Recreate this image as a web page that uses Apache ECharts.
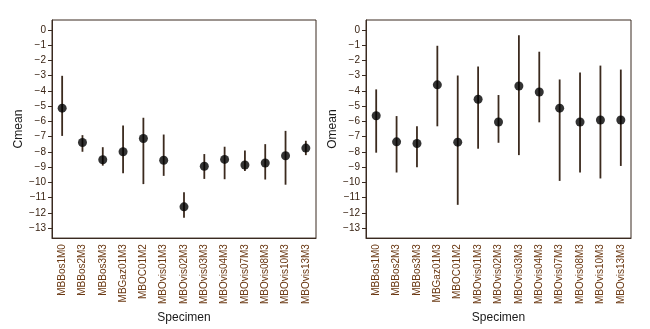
<!DOCTYPE html>
<html><head><meta charset="utf-8">
<script src="https://cdn.jsdelivr.net/npm/echarts@6/dist/echarts.min.js"></script>
<style>html,body{margin:0;padding:0;background:#fff}#c{width:650px;height:329px}</style>
</head><body><div id="c"></div>
<script>
const categories = ['MBBos1M0','MBBos2M3','MBBos3M3','MBGaz01M3','MBOC01M2','MBOvis01M3','MBOvis02M3','MBOvis03M3','MBOvis04M3','MBOvis07M3','MBOvis08M3','MBOvis10M3','MBOvis13M3'];
const cMean = [-5.13,-7.38,-8.51,-7.99,-7.12,-8.55,-11.6,-8.94,-8.49,-8.86,-8.73,-8.25,-7.75];
const cHigh = [-3.01,-6.9,-7.69,-6.26,-5.76,-6.86,-10.65,-8.14,-7.66,-7.9,-7.49,-6.62,-7.27];
const cLow  = [-6.95,-7.99,-8.9,-9.4,-10.11,-9.57,-12.32,-9.77,-9.79,-9.25,-9.81,-10.15,-8.21];
const oMean = [-5.63,-7.34,-7.45,-3.6,-7.36,-4.55,-6.04,-3.68,-4.07,-5.13,-6.04,-5.91,-5.91];
const oHigh = [-3.9,-5.65,-6.32,-1.04,-2.99,-2.4,-4.27,-0.35,-1.43,-3.25,-2.79,-2.34,-2.6];
const oLow  = [-8.05,-9.35,-9.0,-6.32,-11.47,-7.79,-7.4,-8.21,-6.06,-9.9,-9.35,-9.74,-8.92];
const yTicks = [0,-1,-2,-3,-4,-5,-6,-7,-8,-9,-10,-11,-12,-13];

const FONT = 'Liberation Sans, Arial, sans-serif';
const axisCol = '#3a2a20';
const chart = echarts.init(document.getElementById('c'), null, {renderer:'canvas'});

function xAxis(gi){
  return {
    type:'category', gridIndex:gi, data:categories, boundaryGap:true,
    name:'Specimen', nameLocation:'middle', nameGap:64,
    nameTextStyle:{fontFamily:FONT, fontSize:12, color:'#1a1a1a'},
    axisLine:{onZero:false, lineStyle:{color:axisCol, width:1}},
    axisTick:{alignWithLabel:true, length:4, lineStyle:{color:axisCol}},
    axisLabel:{rotate:90, interval:0, fontFamily:FONT, fontSize:10, color:'#6a3812', margin:6},
    splitLine:{show:false}
  };
}
function yAxis(gi, name, gap){
  return {
    type:'value', gridIndex:gi, min:-13.65, max:0.65,
    name:name, nameLocation:'middle', nameGap:gap,
    nameTextStyle:{fontFamily:FONT, fontSize:12, color:'#1a1a1a'},
    axisLine:{show:true, onZero:false, lineStyle:{color:axisCol, width:1}},
    axisTick:{show:true, length:4, customValues:yTicks, lineStyle:{color:axisCol}},
    axisLabel:{customValues:yTicks, fontFamily:FONT, fontSize:10, color:'#3a2414', margin:6,
      formatter:v=>String(Math.round(v)).replace('-','\u2212')},
    splitLine:{show:false}
  };
}
function errSeries(gi, low, high){
  return {
    type:'custom', xAxisIndex:gi, yAxisIndex:gi,
    data: categories.map((c,i)=>[i, low[i], high[i]]),
    renderItem:(params, api)=>{
      const a = api.coord([api.value(0), api.value(1)]);
      const b = api.coord([api.value(0), api.value(2)]);
      return {type:'line', shape:{x1:a[0], y1:a[1], x2:b[0], y2:b[1]},
        style:{stroke:'#3b2a1e', lineWidth:1.8}};
    },
    silent:true, z:2
  };
}
function dotSeries(gi, mean){
  return {
    type:'scatter', xAxisIndex:gi, yAxisIndex:gi,
    data: mean.map((v,i)=>[i,v]), symbol:'circle', symbolSize:9,
    itemStyle:{color:'#000'}, z:3, silent:true
  };
}
chart.setOption({
  animation:false,
  backgroundColor:'#fff',
  grid:[
    {left:52, right:334, top:20, bottom:88, show:true, borderColor:axisCol, borderWidth:1, containLabel:false},
    {left:366, right:19, top:20, bottom:88, show:true, borderColor:axisCol, borderWidth:1, containLabel:false}
  ],
  xAxis:[xAxis(0), xAxis(1)],
  yAxis:[yAxis(0,'Cmean',27), yAxis(1,'Omean',22)],
  series:[errSeries(0,cLow,cHigh), dotSeries(0,cMean), errSeries(1,oLow,oHigh), dotSeries(1,oMean)]
});
</script></body></html>
